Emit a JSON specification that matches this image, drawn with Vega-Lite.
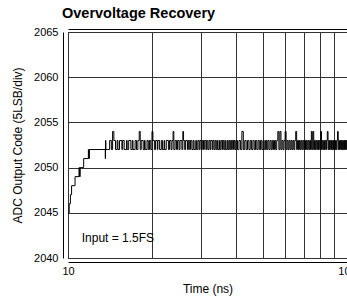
{
  "$schema": "https://vega.github.io/schema/vega-lite/v6.json",
  "width": 279,
  "height": 226,
  "autosize": {"type": "none"},
  "padding": {"left": 68, "top": 32, "right": 0, "bottom": 40},
  "title": {"text": "Overvoltage Recovery", "anchor": "start", "frame": "group", "dx": -6, "offset": 5, "fontSize": 14.5, "font": "Liberation Sans", "fontWeight": "bold", "color": "#000"},
  "config": {
    "view": {"stroke": "#000", "strokeWidth": 1},
    "font": "Liberation Sans",
    "axis": {"labelFont": "Liberation Sans", "titleFont": "Liberation Sans", "labelColor": "#000", "titleColor": "#000", "titleFontWeight": "normal", "domainColor": "#000", "domainWidth": 1, "gridColor": "#333", "gridOpacity": 1, "gridWidth": 1}
  },
  "layer": [
    {
      "data": {"values": [
        {"t": 10, "v": 2045}, {"t": 10.1, "v": 2046}, {"t": 10.2, "v": 2047}, {"t": 10.3, "v": 2048},
        {"t": 10.6, "v": 2049}, {"t": 10.95, "v": 2050}, {"t": 11.0, "v": 2049},
        {"t": 11.06, "v": 2050}, {"t": 11.13, "v": 2050}, {"t": 11.38, "v": 2051}, {"t": 11.83, "v": 2052},
        {"t": 11.88, "v": 2051}, {"t": 11.93, "v": 2052}, {"t": 13.6, "v": 2051}, {"t": 13.63, "v": 2053},
        {"t": 13.67, "v": 2052}, {"t": 13.9, "v": 2052},
        {"t": 14.1, "v": 2053}, {"t": 14.3, "v": 2052}, {"t": 14.45, "v": 2054}, {"t": 14.6, "v": 2053}, {"t": 14.8, "v": 2052},
        {"t": 15.0, "v": 2053}, {"t": 15.1, "v": 2052}, {"t": 15.3, "v": 2053}, {"t": 15.6, "v": 2052}, {"t": 15.7, "v": 2053},
        {"t": 15.9, "v": 2052}, {"t": 16.2, "v": 2053}, {"t": 16.3, "v": 2052}, {"t": 16.5, "v": 2053}, {"t": 16.8, "v": 2052},
        {"t": 17.0, "v": 2053}, {"t": 17.1, "v": 2052}, {"t": 17.4, "v": 2053}, {"t": 17.6, "v": 2052}, {"t": 17.8, "v": 2053},
        {"t": 18.0, "v": 2054}, {"t": 18.15, "v": 2052}, {"t": 18.3, "v": 2053}, {"t": 18.6, "v": 2052}, {"t": 18.8, "v": 2053},
        {"t": 18.9, "v": 2052}, {"t": 19.2, "v": 2053}, {"t": 19.4, "v": 2052}, {"t": 19.6, "v": 2053}, {"t": 19.8, "v": 2052},
        {"t": 20.0, "v": 2054}, {"t": 20.15, "v": 2053}, {"t": 20.4, "v": 2052}, {"t": 20.6, "v": 2053}, {"t": 20.9, "v": 2052},
        {"t": 21.0, "v": 2053}, {"t": 21.3, "v": 2052}, {"t": 21.6, "v": 2053}, {"t": 21.8, "v": 2052}, {"t": 22.1, "v": 2053},
        {"t": 22.2, "v": 2052}, {"t": 22.5, "v": 2053}, {"t": 22.9, "v": 2052}, {"t": 23.1, "v": 2053}, {"t": 23.4, "v": 2052},
        {"t": 23.6, "v": 2053}, {"t": 23.8, "v": 2054}, {"t": 23.95, "v": 2052}, {"t": 24.2, "v": 2053}, {"t": 24.5, "v": 2052},
        {"t": 24.7, "v": 2053}, {"t": 25.0, "v": 2052}, {"t": 25.2, "v": 2053}, {"t": 25.6, "v": 2052}, {"t": 25.8, "v": 2054},
        {"t": 25.95, "v": 2053}, {"t": 26.2, "v": 2052}, {"t": 26.4, "v": 2053}, {"t": 26.8, "v": 2052}, {"t": 27.0, "v": 2053},
        {"t": 27.3, "v": 2052}, {"t": 27.5, "v": 2053}, {"t": 27.8, "v": 2052}, {"t": 28.1, "v": 2053}, {"t": 28.3, "v": 2052},
        {"t": 28.7, "v": 2053}, {"t": 28.9, "v": 2052}, {"t": 29.2, "v": 2053}, {"t": 29.5, "v": 2052}, {"t": 29.7, "v": 2053},
        {"t": 30.0, "v": 2052}, {"t": 30.3, "v": 2053}, {"t": 30.6, "v": 2052}, {"t": 30.8, "v": 2053}, {"t": 31.2, "v": 2052},
        {"t": 31.4, "v": 2053}, {"t": 31.7, "v": 2052}, {"t": 32.0, "v": 2053}, {"t": 32.3, "v": 2052}, {"t": 32.5, "v": 2053},
        {"t": 32.9, "v": 2052}, {"t": 33.1, "v": 2053}, {"t": 33.4, "v": 2052}, {"t": 33.7, "v": 2053}, {"t": 34.0, "v": 2052},
        {"t": 34.3, "v": 2053}, {"t": 34.5, "v": 2052}, {"t": 34.9, "v": 2053}, {"t": 35.1, "v": 2052}, {"t": 35.4, "v": 2053},
        {"t": 35.8, "v": 2052}, {"t": 36.0, "v": 2053}, {"t": 36.3, "v": 2052}, {"t": 36.6, "v": 2053}, {"t": 36.8, "v": 2052},
        {"t": 37.2, "v": 2053}, {"t": 37.4, "v": 2052}, {"t": 37.7, "v": 2053}, {"t": 38.0, "v": 2052}, {"t": 38.3, "v": 2053},
        {"t": 38.6, "v": 2052}, {"t": 38.8, "v": 2053}, {"t": 39.2, "v": 2052}, {"t": 39.4, "v": 2053}, {"t": 39.7, "v": 2052},
        {"t": 40.0, "v": 2053},
        {"t": 40.5, "v": 2052}, {"t": 41.0, "v": 2053}, {"t": 41.5, "v": 2052}, {"t": 42.0, "v": 2054},
        {"t": 42.5, "v": 2052}, {"t": 43.0, "v": 2053}, {"t": 43.5, "v": 2052}, {"t": 44.0, "v": 2053}, {"t": 44.5, "v": 2052},
        {"t": 45.0, "v": 2053}, {"t": 45.5, "v": 2052}, {"t": 46.0, "v": 2053}, {"t": 46.5, "v": 2052}, {"t": 47.0, "v": 2053},
        {"t": 47.5, "v": 2052}, {"t": 48.0, "v": 2053}, {"t": 48.5, "v": 2052}, {"t": 49.0, "v": 2053}, {"t": 49.5, "v": 2052},
        {"t": 50.0, "v": 2053}, {"t": 50.5, "v": 2052}, {"t": 51.0, "v": 2053}, {"t": 51.5, "v": 2052}, {"t": 52.0, "v": 2053},
        {"t": 52.5, "v": 2052}, {"t": 53.0, "v": 2053}, {"t": 53.5, "v": 2052}, {"t": 54.0, "v": 2053}, {"t": 54.5, "v": 2052},
        {"t": 55.0, "v": 2053}, {"t": 55.5, "v": 2052}, {"t": 56.0, "v": 2053}, {"t": 56.5, "v": 2054}, {"t": 57.0, "v": 2052},
        {"t": 57.5, "v": 2054}, {"t": 58.0, "v": 2052}, {"t": 58.5, "v": 2053}, {"t": 59.0, "v": 2052}, {"t": 59.5, "v": 2053},
        {"t": 60.0, "v": 2054}, {"t": 60.5, "v": 2052}, {"t": 61.0, "v": 2053}, {"t": 61.5, "v": 2052}, {"t": 62.0, "v": 2053},
        {"t": 62.5, "v": 2052}, {"t": 63.0, "v": 2053}, {"t": 63.5, "v": 2052}, {"t": 64.0, "v": 2053}, {"t": 64.5, "v": 2052},
        {"t": 65.0, "v": 2053}, {"t": 65.5, "v": 2054}, {"t": 66.0, "v": 2052}, {"t": 66.5, "v": 2053}, {"t": 67.0, "v": 2052},
        {"t": 67.5, "v": 2053}, {"t": 68.0, "v": 2052}, {"t": 68.5, "v": 2053}, {"t": 69.0, "v": 2052}, {"t": 69.5, "v": 2053},
        {"t": 70.0, "v": 2052}, {"t": 70.5, "v": 2053}, {"t": 71.0, "v": 2052}, {"t": 71.5, "v": 2053}, {"t": 72.0, "v": 2052},
        {"t": 72.5, "v": 2053}, {"t": 73.0, "v": 2052}, {"t": 73.5, "v": 2053}, {"t": 74.0, "v": 2052}, {"t": 74.5, "v": 2054},
        {"t": 75.0, "v": 2052}, {"t": 75.5, "v": 2054}, {"t": 76.0, "v": 2052}, {"t": 76.5, "v": 2053}, {"t": 77.0, "v": 2052},
        {"t": 77.5, "v": 2053}, {"t": 78.0, "v": 2052}, {"t": 78.5, "v": 2053}, {"t": 79.0, "v": 2052}, {"t": 79.5, "v": 2053},
        {"t": 80.0, "v": 2052}, {"t": 80.5, "v": 2054}, {"t": 81.0, "v": 2052}, {"t": 81.5, "v": 2053}, {"t": 82.0, "v": 2052},
        {"t": 82.5, "v": 2053}, {"t": 83.0, "v": 2052}, {"t": 83.5, "v": 2053}, {"t": 84.0, "v": 2052}, {"t": 84.5, "v": 2053},
        {"t": 85.0, "v": 2054}, {"t": 85.5, "v": 2052}, {"t": 86.0, "v": 2053}, {"t": 86.5, "v": 2052}, {"t": 87.0, "v": 2053},
        {"t": 87.5, "v": 2052}, {"t": 88.0, "v": 2053}, {"t": 88.5, "v": 2052}, {"t": 89.0, "v": 2053}, {"t": 89.5, "v": 2052},
        {"t": 90.0, "v": 2053}, {"t": 90.5, "v": 2052}, {"t": 91.0, "v": 2053}, {"t": 91.5, "v": 2052}, {"t": 92.0, "v": 2053},
        {"t": 92.5, "v": 2054}, {"t": 93.0, "v": 2052}, {"t": 93.5, "v": 2053}, {"t": 94.0, "v": 2052}, {"t": 94.5, "v": 2053},
        {"t": 95.0, "v": 2052}, {"t": 95.5, "v": 2053}, {"t": 96.0, "v": 2052}, {"t": 96.5, "v": 2053}, {"t": 97.0, "v": 2052},
        {"t": 97.5, "v": 2053}, {"t": 98.0, "v": 2052}, {"t": 98.5, "v": 2053}, {"t": 99.0, "v": 2052}, {"t": 99.5, "v": 2053},
        {"t": 100.0, "v": 2052}
      ]},
      "mark": {"type": "line", "color": "#000", "strokeWidth": 1, "clip": true, "interpolate": "step-after"},
      "encoding": {
        "x": {
          "field": "t", "type": "quantitative",
          "scale": {"type": "log", "domain": [10, 100], "nice": false},
          "axis": {
            "orient": "bottom",
            "values": [10, 20, 30, 40, 50, 60, 70, 80, 90, 100],
            "labelExpr": "datum.value == 10 ? '10' : datum.value == 100 ? '100' : ''",
            "title": "Time (ns)",
            "offset": 4,
            "ticks": false,
            "labelPadding": 3,
            "titlePadding": 7,
            "grid": true,
            "labelFontSize": 11,
            "titleFontSize": 12,
            "labelFlush": false,
            "labelOverlap": false
          }
        },
        "y": {
          "field": "v", "type": "quantitative",
          "scale": {"domain": [2040, 2065], "nice": false, "zero": false},
          "axis": {
            "values": [2040, 2045, 2050, 2055, 2060, 2065],
            "format": "d",
            "title": "ADC Output Code (5LSB/div)",
            "offset": 5,
            "ticks": false,
            "labelPadding": 5,
            "titlePadding": 9,
            "grid": true,
            "labelFontSize": 11,
            "titleFontSize": 12
          }
        }
      }
    },
    {
      "data": {"values": [{"t": 11.2, "v": 2041.8, "label": "Input = 1.5FS"}]},
      "mark": {"type": "text", "align": "left", "baseline": "alphabetic", "fontSize": 12, "font": "Liberation Sans", "color": "#000"},
      "encoding": {
        "x": {"field": "t", "type": "quantitative", "axis": {"orient": "top", "offset": 3, "labels": false, "ticks": false, "grid": false, "title": null}},
        "y": {"field": "v", "type": "quantitative"},
        "text": {"field": "label"}
      }
    }
  ],
  "resolve": {"axis": {"x": "independent"}}
}
